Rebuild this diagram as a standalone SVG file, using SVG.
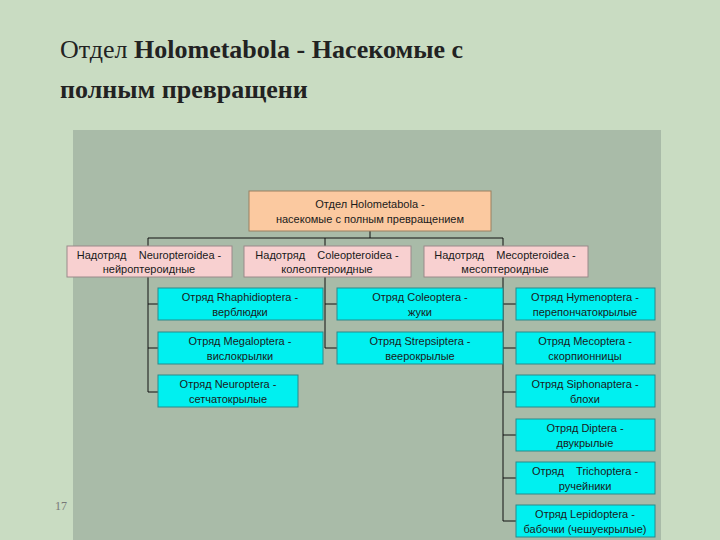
<svg xmlns="http://www.w3.org/2000/svg" width="720" height="540" viewBox="0 0 720 540">
<style>
.t{font-family:"Liberation Sans",Arial,sans-serif;font-size:11px;fill:#1a1a1a;text-anchor:middle;white-space:pre}
.c rect{fill:#00f0f0;stroke:#2a8a8a;stroke-width:1}
.p rect{fill:#f8d0d0;stroke:#9a8a8a;stroke-width:1}
#conn path{fill:none;stroke:#111;stroke-width:1}
</style>
<rect width="720" height="540" fill="#c9dcc2"/>
<rect x="73" y="130" width="588" height="410" fill="#a9bba8"/>
<text x="60" y="58" font-family="Liberation Serif,serif" font-size="26" fill="#222">Отдел <tspan font-weight="bold">Holometabola - Насекомые с</tspan></text>
<text x="60" y="98" font-family="Liberation Serif,serif" font-size="26" font-weight="bold" fill="#222">полным превращени</text>
<text x="55" y="510" font-family="Liberation Serif,serif" font-size="12" fill="#777">17</text>
<g id="conn">
<path d="M370 231V238M148 238H503M148 238V246M325 238V246M503 238V246"/>
<path d="M148 277V392M148 304H158M148 348H158M148 392H158"/>
<path d="M325 277V348M325 304H337M325 348H337"/>
<path d="M503 277V521M503 304H516M503 348H516M503 392H516M503 435H516M503 478H516M503 521H516"/>
</g>
<g id="root"><rect x="249" y="191" width="242" height="40" fill="#fbc9a0" stroke="#9a8060"/><text class="t" x="370" y="208">Отдел Holometabola -</text><text class="t" x="370" y="223">насекомые с полным превращением</text></g>
<g id="s1" class="p"><rect x="67" y="246" width="165" height="31"/><text class="t" x="149" y="259" xml:space="preserve">Надотряд    Neuropteroidea -</text><text class="t" x="149" y="273">нейроптероидные</text></g>
<g id="s2" class="p"><rect x="244" y="246" width="167" height="31"/><text class="t" x="327" y="259" xml:space="preserve">Надотряд    Coleopteroidea -</text><text class="t" x="327" y="273">колеоптероидные</text></g>
<g id="s3" class="p"><rect x="424" y="246" width="164" height="31"/><text class="t" x="505" y="259" xml:space="preserve">Надотряд    Mecopteroidea -</text><text class="t" x="505" y="273">месоптероидные</text></g>
<g id="o1" class="c"><rect x="158" y="288" width="165" height="32"/><text class="t" x="240" y="301">Отряд Rhaphidioptera -</text><text class="t" x="240" y="316">верблюдки</text></g>
<g id="o2" class="c"><rect x="158" y="332" width="165" height="32"/><text class="t" x="240" y="345">Отряд Megaloptera -</text><text class="t" x="240" y="360">вислокрылки</text></g>
<g id="o3" class="c"><rect x="158" y="375" width="140" height="32"/><text class="t" x="228" y="388">Отряд Neuroptera -</text><text class="t" x="228" y="403">сетчатокрылые</text></g>
<g id="o4" class="c"><rect x="337" y="288" width="166" height="32"/><text class="t" x="420" y="301">Отряд Coleoptera -</text><text class="t" x="420" y="316">жуки</text></g>
<g id="o5" class="c"><rect x="337" y="332" width="166" height="32"/><text class="t" x="420" y="345">Отряд Strepsiptera -</text><text class="t" x="420" y="360">веерокрылые</text></g>
<g id="o6" class="c"><rect x="516" y="288" width="139" height="32"/><text class="t" x="585" y="301">Отряд Hymenoptera -</text><text class="t" x="585" y="316">перепончатокрылые</text></g>
<g id="o7" class="c"><rect x="516" y="332" width="139" height="32"/><text class="t" x="585" y="345">Отряд Mecoptera -</text><text class="t" x="585" y="360">скорпионницы</text></g>
<g id="o8" class="c"><rect x="516" y="375" width="139" height="32"/><text class="t" x="585" y="388">Отряд Siphonaptera -</text><text class="t" x="585" y="403">блохи</text></g>
<g id="o9" class="c"><rect x="516" y="419" width="139" height="32"/><text class="t" x="585" y="432">Отряд Diptera -</text><text class="t" x="585" y="447">двукрылые</text></g>
<g id="o10" class="c"><rect x="516" y="462" width="139" height="32"/><text class="t" x="585" y="475" xml:space="preserve">Отряд    Trichoptera -</text><text class="t" x="585" y="490">ручейники</text></g>
<g id="o11" class="c"><rect x="516" y="505" width="139" height="32"/><text class="t" x="585" y="518">Отряд Lepidoptera -</text><text class="t" x="585" y="533">бабочки (чешуекрылые)</text></g>
</svg>
